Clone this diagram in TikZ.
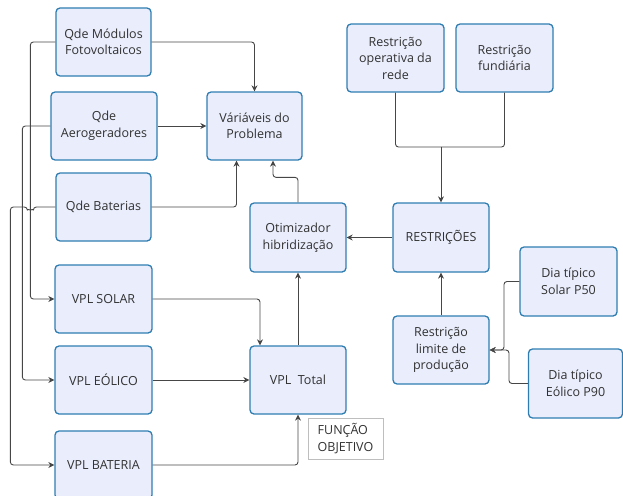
\documentclass[tikz,border=0pt]{standalone}
\usepackage{fontspec}
\setmainfont{Open Sans}
\usepackage{tikz}
\usetikzlibrary{arrows.meta,positioning,calc}
\definecolor{boxblue}{RGB}{46,125,178}
\definecolor{boxfill}{RGB}{233,237,252}
\definecolor{linegray}{RGB}{70,70,70}
\definecolor{notegray}{RGB}{190,190,190}
\definecolor{txtgray}{RGB}{50,50,50}

\begin{document}
\begin{tikzpicture}[x=1pt, y=-1pt,
  box/.style={rectangle, rounded corners=4pt, draw=boxblue, line width=1.3pt, fill=boxfill,
    align=center, text=txtgray, minimum width=96pt, minimum height=68pt, inner sep=2pt,
    font=\fontsize{12.5}{16.5}\selectfont},
  note/.style={rectangle, draw=notegray, line width=0.9pt, fill=white, align=left, text=txtgray,
    minimum width=75pt, minimum height=41pt, inner sep=2pt, font=\fontsize{12.5}{16.5}\selectfont},
  e/.style={-{Stealth[length=6pt,width=6pt]}, line width=0.9pt, linegray, rounded corners=3pt}
]
  \useasboundingbox (0,0) rectangle (623,495);

  % variaveis de decisao
  \node[box, minimum width=95pt] (modulos) at (103.5,42) {Qde Módulos\\Fotovoltaicos};
  \node[box, minimum width=106pt] (aero) at (104,126) {Qde\\Aerogeradores};
  \node[box, minimum width=95pt] (baterias) at (103.5,207) {Qde Baterias};
  \node[box, minimum width=95pt] (variaveis) at (254.5,126) {Váriáveis do\\Problema};

  % VPL
  \node[box, minimum width=97pt] (vplsolar) at (103.5,299) {VPL SOLAR};
  \node[box, minimum width=97pt] (vpleolico) at (103.5,380) {VPL EÓLICO};
  \node[box, minimum width=97pt] (vplbateria) at (103.5,465) {VPL BATERIA};
  \node[box] (vpltotal) at (298,380) {VPL\ \ Total};
  \node[note] (funcao) at (345.5,438.5) {FUNÇÃO\\OBJETIVO};
  \node[box, minimum height=69pt] (otimizador) at (298,237.5) {Otimizador\\hibridização};

  % restricoes
  \node[box, minimum width=97pt] (rede) at (395.5,58) {Restrição\\operativa da\\rede};
  \node[box, minimum width=97pt] (fundiaria) at (504.5,58) {Restrição\\fundiária};
  \node[box, minimum height=69pt] (restricoes) at (441,237.5) {RESTRIÇÕES};
  \node[box] (limite) at (441,350) {Restrição\\limite de\\produção};
  \node[box, minimum width=97pt, minimum height=69pt] (solar50) at (568.5,281.5) {Dia típico\\Solar P50};
  \node[box, minimum width=94pt, minimum height=69pt] (eolico90) at (575.5,383.5) {Dia típico\\Eólico P90};

  \coordinate (merge) at (441,147);
  \coordinate (sj) at (504,350);
  \coordinate (ej) at (509,350);

  % ligacoes
  \draw[e] (modulos.east) -| (variaveis.north);
  \draw[e] (aero) -- (variaveis);
  \draw[e] (baterias.east) -| ([xshift=-18pt]variaveis.south);
  \draw[e] (otimizador.north) -- ++(0,-25) -| ([xshift=18.5pt]variaveis.south);
  \draw[e] (restricoes) -- (otimizador);
  \draw[e, -] (rede.south) |- (merge);
  \draw[e, -] (fundiaria.south) |- (merge);
  \draw[e] (merge) -- (restricoes.north);
  \draw[e] (limite) -- (restricoes);
  \draw[e] (solar50.west) -| (sj) -- (limite.east);
  \draw[e] (eolico90.west) -| (ej) -- (limite.east);

  \draw[e] (vplsolar.east) -| ([xshift=-38pt]vpltotal.north);
  \draw[e] (vpleolico) -- (vpltotal);
  \draw[e] (vplbateria.east) -| (vpltotal.south);
  \draw[e] (vpltotal) -- (otimizador);

  \draw[e] (modulos.west) -- ++(-25,0) |- (vplsolar.west);
  \draw[e] (aero.west) -- ++(-28,0) |- (vpleolico.west);
  \draw[e] (baterias.west) -- ++(-22,0) arc[start angle=0, end angle=-180, radius=3pt]
    -- ++(-17,0) |- (vplbateria.west);
\end{tikzpicture}
\end{document}
